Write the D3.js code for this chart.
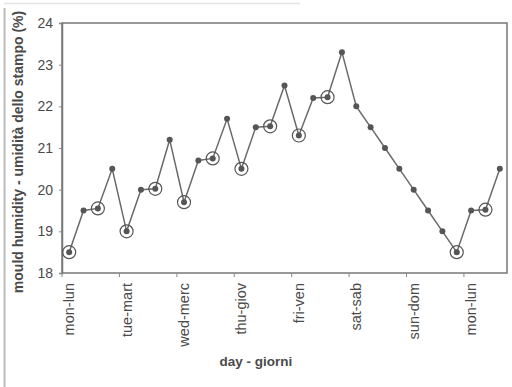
<!DOCTYPE html>
<html>
<head>
<meta charset="utf-8">
<script src="https://cdn.jsdelivr.net/npm/d3@7"></script>
<style>
  body { margin: 0; background: #fff; }
  svg { display: block; font-family: Arial, "Liberation Sans", sans-serif; }
</style>
</head>
<body>
<div id="chart"></div>
<script>
// giorni (etichette asse x) e letture di umidita (4 al giorno)
const days = ["mon-lun", "tue-mart", "wed-merc", "thu-giov", "fri-ven", "sat-sab", "sun-dom", "mon-lun"];
const humidity = [18.5, 19.5, 19.55, 20.5, 19.0, 20.0, 20.02, 21.2, 19.7, 20.7, 20.75, 21.7,
  20.5, 21.5, 21.52, 22.5, 21.3, 22.2, 22.22, 23.3, 22.0, 21.5, 21.0, 20.5, 20.0, 19.5,
  19.0, 18.5, 19.5, 19.52, 20.5];
// letture cerchiate
const circled = [0, 2, 4, 6, 8, 10, 12, 14, 16, 18, 27, 29];
const yTicks = [18, 19, 20, 21, 22, 23, 24];

const width = 512, height = 387;
const mLeft = 62, mRight = 507, mTop = 23, mBottom = 273;

const svg = d3.select("#chart").append("svg")
  .attr("width", width)
  .attr("height", height);

// bordo della scansione
svg.append("line")
  .attr("x1", 4.5).attr("x2", 4.5).attr("y1", 8).attr("y2", height)
  .attr("stroke", "#bbb").attr("stroke-width", 2);
svg.append("line")
  .attr("x1", 4).attr("x2", 300).attr("y1", 3.5).attr("y2", 3.5)
  .attr("stroke", "#e4e4e4").attr("stroke-width", 1.5);

const idx = d3.range(humidity.length);
const x = d3.scaleBand().domain(idx).range([mLeft, mRight]).padding(0);
const cx = i => x(i) + x.bandwidth() / 2;
const y = d3.scaleLinear().domain([18, 24]).range([mBottom, mTop]);

// riquadro del grafico
svg.append("rect")
  .attr("x", mLeft).attr("y", mTop)
  .attr("width", mRight - mLeft).attr("height", mBottom - mTop)
  .attr("fill", "none").attr("stroke", "#777").attr("stroke-width", 1.5);

// asse y
const yAxis = svg.append("g")
  .attr("transform", `translate(${mLeft},0)`)
  .call(d3.axisLeft(y).tickValues(yTicks).tickSize(3).tickPadding(6).tickFormat(d3.format("d")));
yAxis.select(".domain").attr("stroke", "#777").attr("stroke-width", 1.5);
yAxis.selectAll(".tick line").attr("stroke", "#888");
yAxis.selectAll("text").attr("font-size", 14).attr("fill", "#4a4a4a");

// asse x: tacche ogni 4 letture
const tickIdx = d3.range(0, humidity.length, 4);
const xg = svg.append("g");
xg.selectAll("line")
  .data(tickIdx)
  .join("line")
  .attr("x1", d => x(d)).attr("x2", d => x(d))
  .attr("y1", mBottom).attr("y2", mBottom + 4)
  .attr("stroke", "#888");
xg.selectAll("text")
  .data(tickIdx)
  .join("text")
  .attr("transform", d => `translate(${cx(d) + 5},${mBottom + 10}) rotate(-90)`)
  .attr("text-anchor", "end")
  .attr("font-size", 14.5)
  .attr("fill", "#4a4a4a")
  .text((d, i) => days[i]);

// linea
svg.append("path")
  .datum(humidity)
  .attr("fill", "none")
  .attr("stroke", "#6a6a6a")
  .attr("stroke-width", 1.5)
  .attr("d", d3.line().x((d, i) => cx(i)).y(d => y(d)));

// punti
svg.append("g").selectAll("circle")
  .data(humidity)
  .join("circle")
  .attr("cx", (d, i) => cx(i))
  .attr("cy", d => y(d))
  .attr("r", 3)
  .attr("fill", "#555");

// cerchi
svg.append("g").selectAll("circle")
  .data(circled)
  .join("circle")
  .attr("cx", d => cx(d))
  .attr("cy", d => y(humidity[d]))
  .attr("r", 6.5)
  .attr("fill", "none")
  .attr("stroke", "#555")
  .attr("stroke-width", 1.2);

// titoli assi
svg.append("text")
  .attr("transform", `translate(23,152) rotate(-90)`)
  .attr("text-anchor", "middle")
  .attr("font-size", 14)
  .attr("font-weight", "bold")
  .attr("fill", "#4a4a4a")
  .text("mould humidity - umidità dello stampo (%)");

svg.append("text")
  .attr("x", 256).attr("y", 366)
  .attr("text-anchor", "middle")
  .attr("font-size", 13.5)
  .attr("font-weight", "bold")
  .attr("fill", "#4a4a4a")
  .text("day - giorni");
</script>
</body>
</html>
